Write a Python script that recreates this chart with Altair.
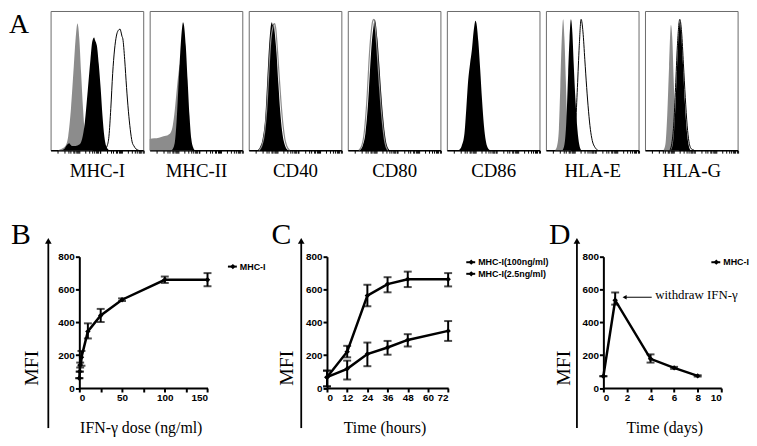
import altair as alt
import numpy as np
import pandas as pd

SERIF = "Liberation Serif, Times New Roman, serif"
SANS = "Liberation Sans, Arial, sans-serif"

# ---------------- Panel A: flow-cytometry histograms (x, y in % of panel) ----------------
HIST_LABELS = ["MHC-I", "MHC-II", "CD40", "CD80", "CD86", "HLA-E", "HLA-G"]

MHCI_GRAY = [(8, 0), (12, 1), (16, 3), (19, 10), (22, 30), (25, 60), (27, 80), (29, 91), (30, 88),
             (31, 80), (33, 55), (35, 30), (37, 12), (39, 4), (42, 1), (46, 0)]
MHCI_BLACK = [(12, 0), (15, 1), (18, 4), (20, 5), (23, 3), (27, 3), (31, 4), (34, 8), (37, 20), (40, 42),
              (43, 65), (45, 78), (47, 81), (48, 79), (50, 75), (52, 62), (54, 45), (56, 25), (58, 10),
              (60, 3), (63, 0)]
MHCI_OPEN = [(58, 0), (61, 3), (63, 10), (65, 30), (67, 55), (69, 72), (71, 82), (73, 86), (75, 87),
             (76, 85), (77, 82), (78, 80), (80, 65), (82, 45), (84, 28), (86, 15), (88, 6), (90, 3),
             (92, 1), (95, 0)]

MHCII_GRAY = [(0, 8), (5, 8.5), (10, 9), (15, 10), (20, 11), (23, 13), (25, 18), (27, 28), (29, 42),
              (31, 55), (33, 62), (35, 60), (37, 45), (40, 20), (43, 5), (46, 0)]
MHCII_BLACK = [(24, 0), (27, 5), (29, 20), (31, 45), (33, 70), (35, 88), (36, 92), (37, 90), (39, 75),
               (41, 50), (43, 25), (45, 8), (47, 2), (49, 0)]

CD40_BLACK = [(9, 0), (12, 2), (15, 8), (18, 25), (20, 50), (22, 75), (24, 90), (25, 92), (26, 90),
              (27, 91), (28, 85), (30, 70), (32, 48), (34, 28), (36, 14), (38, 6), (40, 2), (43, 0)]
CD40_GRAYLINE = [(11, 0), (14, 3), (17, 12), (20, 35), (22, 60), (24, 80), (26, 88), (28, 91), (29, 88),
                 (31, 72), (33, 52), (35, 33), (37, 18), (39, 8), (41, 3), (44, 0)]

CD80_BLACK = [(13, 0), (16, 3), (19, 12), (22, 35), (24, 58), (26, 78), (28, 90), (29, 94), (30, 92),
              (32, 80), (34, 62), (36, 42), (38, 25), (40, 12), (42, 4), (45, 0)]
CD80_GRAYLINE = [(12, 0), (15, 3), (18, 14), (21, 40), (23, 65), (25, 83), (27, 93), (28, 94), (30, 86),
                 (32, 68), (34, 48), (36, 30), (38, 16), (40, 6), (43, 0)]

CD86_BLACK = [(13, 0), (16, 3), (19, 12), (21, 30), (23, 50), (25, 62), (27, 72), (29, 86), (31, 93),
              (32, 91), (34, 78), (36, 58), (38, 36), (40, 18), (42, 7), (44, 2), (47, 0)]

HLAE_GRAY = [(10, 0), (12, 3), (14, 15), (15.5, 45), (17, 78), (18.6, 94), (20, 80), (21.5, 50),
             (23, 20), (25, 5), (27, 0)]
HLAE_BLACK = [(18, 0), (20, 4), (22, 20), (24, 55), (25.5, 80), (27, 94), (28.5, 85), (30, 62), (32, 35),
              (34, 15), (36, 4), (38, 0)]
HLAE_OPEN = [(28, 0), (30, 4), (32, 18), (34, 45), (36, 75), (38, 94), (40, 85), (42, 65), (44, 45),
             (46, 28), (48, 15), (50, 7), (53, 2), (56, 0)]

HLAG_GRAY = [(20, 0), (22, 4), (24, 25), (26, 60), (28, 90), (29.5, 80), (31, 50), (33, 20), (35, 5),
             (37, 0)]
HLAG_BLACK = [(28, 0), (30, 4), (32, 20), (34, 50), (36, 80), (37.6, 92), (39, 85), (41, 62), (43, 35),
              (45, 15), (47, 4), (49, 0)]
HLAG_OPEN = [(27, 0), (29, 5), (31, 18), (33, 45), (35, 75), (37.6, 94), (39.5, 85), (41.5, 62),
             (43.5, 38), (45.5, 18), (47.5, 6), (50, 1), (53, 0)]

HIST_CURVES = [
    [("gray", MHCI_GRAY), ("black", MHCI_BLACK), ("open", MHCI_OPEN)],
    [("gray", MHCII_GRAY), ("black", MHCII_BLACK)],
    [("black", CD40_BLACK), ("grayline", CD40_GRAYLINE)],
    [("black", CD80_BLACK), ("grayline", CD80_GRAYLINE)],
    [("black", CD86_BLACK)],
    [("gray", HLAE_GRAY), ("black", HLAE_BLACK), ("open", HLAE_OPEN)],
    [("gray", HLAG_GRAY), ("black", HLAG_BLACK), ("open", HLAG_OPEN)],
]

# ---------------- Panel B: dose response ----------------
B_DOSE = [0, 0.5, 1, 2.5, 10, 25, 50, 100, 150]
B_MFI = [60, 100, 140, 187, 345, 442, 538, 659, 659]
B_LO = [60, 100, 125, 136, 302, 402, 530, 640, 620]
B_HI = [60, 100, 155, 226, 394, 482, 546, 679, 700]

# ---------------- Panel C: time course (hours) ----------------
C_TIME = [0, 12, 24, 36, 48, 72]
C_HIGH = [66, 221, 563, 633, 663, 663]
C_HIGH_LO = [10, 187, 498, 583, 615, 619]
C_HIGH_HI = [106, 257, 629, 675, 709, 700]
C_LOW = [66, 117, 207, 247, 293, 348]
C_LOW_LO = [10, 52, 133, 203, 253, 287]
C_LOW_HI = [106, 167, 277, 287, 328, 408]

# ---------------- Panel D: withdrawal (days) ----------------
D_DAY = [0, 1, 4, 6, 8]
D_MFI = [72, 535, 178, 123, 74]
D_LO = [72, 508, 155, 117, 70]
D_HI = [72, 582, 205, 129, 78]

TOP_W, TOP_H = 93.5, 140.5
TICK_POS = [round(8 + 23 * (d + np.log10(k)), 2) for d in range(4) for k in range(1, 10)] + [100]


def one_row(t):
    return pd.DataFrame({"t": [t]})


def spacer(w, h):
    return alt.Chart(one_row("")).mark_point(opacity=0, size=1).encode(
        x=alt.value(w / 2), y=alt.value(h / 2)).properties(width=w, height=h)


def hist_panel(label, curves, with_letter=False):
    xaxis = alt.Axis(values=TICK_POS, labels=False, tickSize=3, tickColor="black", tickWidth=1,
                     domainColor="black", domainWidth=1.5, grid=False, title=label,
                     titleFont=SERIF, titleFontSize=19, titleFontWeight="normal", titleColor="black",
                     titleBaseline="alphabetic", titleY=27)
    X = lambda f: alt.X(f, type="quantitative", scale=alt.Scale(domain=[0, 100], nice=False), axis=xaxis)
    Y = lambda f: alt.Y(f, type="quantitative", scale=alt.Scale(domain=[0, 100], nice=False), axis=None)
    layers = []
    for kind, pts in curves:
        df = pd.DataFrame(pts, columns=["x", "y"])
        base = alt.Chart(df)
        if kind == "gray":
            m = base.mark_area(color="#8c8c8c", interpolate="monotone")
        elif kind == "black":
            m = base.mark_area(color="#000000", interpolate="monotone")
        elif kind == "open":
            m = base.mark_line(color="#000000", strokeWidth=1, interpolate="monotone")
        else:
            m = base.mark_line(color="#8c8c8c", strokeWidth=1.2, interpolate="monotone")
        layers.append(m.encode(x=X("x"), y=Y("y")))
    if with_letter:
        layers.append(alt.Chart(one_row("A")).mark_text(font=SERIF, fontSize=28, align="center",
                                                        baseline="alphabetic", color="black")
                      .encode(x=alt.value(-32), y=alt.value(22), text="t:N"))
    return alt.layer(*layers).properties(
        width=TOP_W, height=TOP_H, view=alt.ViewBackground(stroke="#6a6a6a", strokeWidth=1))


def line_panel(df, xdom, xvals, xtitle, width, title_x, letter, arrow_x, letter_x, mfi_x,
               legend, extra=None):
    yaxis = alt.Axis(values=[0, 200, 400, 600, 800], grid=False, domainColor="black", domainWidth=2,
                     tickColor="black", tickWidth=2, tickSize=4, labelFont=SANS, labelFontWeight="bold",
                     labelFontSize=10, labelColor="black", labelPadding=1, title="MFI",
                     titleFont=SERIF, titleFontSize=20, titleFontWeight="normal", titleColor="black",
                     titleAngle=270, titleX=mfi_x, titleY=112, titleAlign="center",
                     titleBaseline="alphabetic")
    xaxis = alt.Axis(values=xvals, grid=False, domainColor="black", domainWidth=2, tickColor="black",
                     tickWidth=2, tickSize=4, labelFont=SANS, labelFontWeight="bold", labelFontSize=10,
                     labelColor="black", labelPadding=1, title=xtitle, titleFont=SERIF, titleFontSize=16,
                     titleFontWeight="normal", titleColor="black", titleX=title_x, titleY=45,
                     titleAlign="center", titleBaseline="alphabetic")
    xs = alt.Scale(domain=xdom, nice=False)
    ys = alt.Scale(domain=[0, 800], nice=False)
    X = lambda f: alt.X(f, type="quantitative", scale=xs, axis=xaxis)
    Y = lambda f: alt.Y(f, type="quantitative", scale=ys, axis=yaxis)
    base = alt.Chart(df)
    layers = [
        base.mark_line(color="black", strokeWidth=2.5).encode(x=X("x"), y=Y("y"), detail="s:N"),
        base.mark_rule(color="black", strokeWidth=2).encode(x=X("x"), y=Y("lo"), y2="hi:Q"),
        base.mark_tick(color="black", thickness=2, size=8, orient="horizontal").encode(x=X("x"), y=Y("lo")),
        base.mark_tick(color="black", thickness=2, size=8, orient="horizontal").encode(x=X("x"), y=Y("hi")),
        base.mark_point(shape="diamond", filled=True, color="black", size=30, opacity=1).encode(
            x=X("x"), y=Y("y")),
    ]
    if extra is not None:
        layers += extra(X, Y)
    # big arrow used as the y-axis indicator
    layers.append(alt.Chart(one_row("")).mark_rule(color="black", strokeWidth=1.8).encode(
        x=alt.value(arrow_x), y=alt.value(-16), y2=alt.value(173)))
    layers.append(alt.Chart(one_row("")).mark_point(shape="triangle-up", filled=True, color="black",
                                                    size=45, opacity=1).encode(
        x=alt.value(arrow_x), y=alt.value(-16)))
    layers.append(alt.Chart(one_row(letter)).mark_text(font=SERIF, fontSize=30, align="center",
                                                       baseline="alphabetic", color="black").encode(
        x=alt.value(letter_x), y=alt.value(-13), text="t:N"))
    for lx, ly, lab in legend:
        layers.append(alt.Chart(one_row("")).mark_rule(color="black", strokeWidth=2).encode(
            x=alt.value(lx - 5), x2=alt.value(lx + 4), y=alt.value(ly)))
        layers.append(alt.Chart(one_row("")).mark_point(shape="diamond", filled=True, color="black",
                                                        size=28, opacity=1).encode(
            x=alt.value(lx), y=alt.value(ly)))
        layers.append(alt.Chart(one_row(lab)).mark_text(font=SANS, fontWeight="bold", fontSize=9,
                                                        align="left", baseline="middle",
                                                        color="black").encode(
            x=alt.value(lx + 7), y=alt.value(ly), text="t:N"))
    return alt.layer(*layers).properties(width=width, height=132.6)


# ---- build data frames
b_df = pd.DataFrame({"x": B_DOSE, "y": B_MFI, "lo": B_LO, "hi": B_HI, "s": "MHC-I"})
c_df = pd.concat([
    pd.DataFrame({"x": C_TIME, "y": C_HIGH, "lo": C_HIGH_LO, "hi": C_HIGH_HI, "s": "MHC-I(100ng/ml)"}),
    pd.DataFrame({"x": C_TIME, "y": C_LOW, "lo": C_LOW_LO, "hi": C_LOW_HI, "s": "MHC-I(2.5ng/ml)"}),
], ignore_index=True)
d_df = pd.DataFrame({"x": D_DAY, "y": D_MFI, "lo": D_LO, "hi": D_HI, "s": "MHC-I"})

ANN = pd.DataFrame({"x1": [1.8], "x2": [4.1], "y": [553], "tx": [4.4], "ty": [565],
                    "t": ["withdraw IFN-\u03b3"]})


def d_extra(X, Y):
    base = alt.Chart(ANN)
    return [
        base.mark_rule(color="black", strokeWidth=1).encode(x=X("x1"), x2="x2:Q", y=Y("y")),
        base.mark_point(shape="triangle-left", filled=True, color="black", size=22, opacity=1).encode(
            x=X("x1"), y=Y("y")),
        base.mark_text(font=SERIF, fontSize=13, align="left", baseline="middle", color="black").encode(
            x=X("tx"), y=Y("ty"), text="t:N"),
    ]


panel_b = line_panel(b_df, [0, 150], [0, 25, 50, 75, 100, 125, 150], "IFN-\u03b3 dose (ng/ml)", 129.4,
                     62, "B", -31.3, -59, -42, [(155, 10, "MHC-I")])
panel_c = line_panel(c_df, [0, 72], [0, 12, 24, 36, 48, 60, 72], "Time (hours)", 122.3, 58, "C",
                     -26, -46, -34.4, [(145.6, 5.6, "MHC-I(100ng/ml)"), (145.6, 17.3, "MHC-I(2.5ng/ml)")])
panel_d = line_panel(d_df, [0, 10], [0, 2, 4, 6, 8, 10], "Time (days)", 119, 61.5, "D",
                     -26.7, -44, -34.3, [(114, 5.6, "MHC-I")], extra=d_extra)

top_panels = [hist_panel(lab, cur, with_letter=(i == 0)) for i, (lab, cur) in
              enumerate(zip(HIST_LABELS, HIST_CURVES))]
top_row = alt.hconcat(spacer(36, 172), *top_panels, spacing=6, bounds="flush")
bottom_row = alt.hconcat(spacer(70.3, 132.6), panel_b, spacer(120, 132.6), panel_c, spacer(156, 132.6),
                         panel_d, spacing=0, bounds="flush")

chart = alt.vconcat(top_row, bottom_row, spacing=39).properties(
    padding=0, background="white").configure_view(stroke=None)

chart.save("out.html", embed_options={"renderer": "svg", "actions": False})
